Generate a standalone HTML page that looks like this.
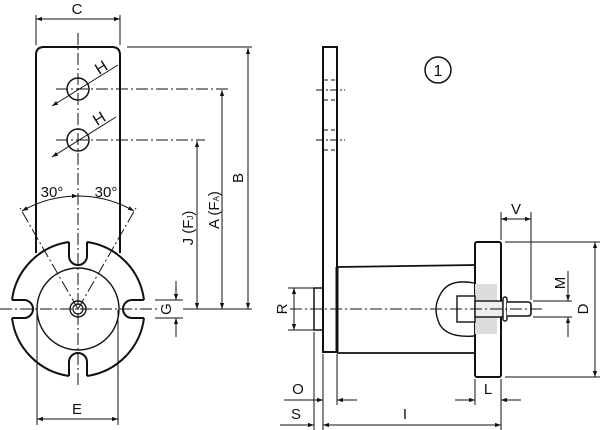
<!DOCTYPE html>
<html><head><meta charset="utf-8"><style>
html,body{margin:0;padding:0;background:#fff;width:600px;height:430px;overflow:hidden}
svg{display:block}
text{font-family:"Liberation Sans",sans-serif;fill:#111}
</style></head><body>
<svg width="600" height="430" viewBox="0 0 600 430" xmlns="http://www.w3.org/2000/svg">
<defs>
<marker id="a" viewBox="0 0 10 10" refX="10" refY="5" markerWidth="8" markerHeight="6" orient="auto-start-reverse" markerUnits="userSpaceOnUse"><path d="M0,1.5 L10,5 L0,8.5z" fill="#111"/></marker>
</defs>
<g stroke="#111" fill="none">
<path d="M36,253 L36,55 Q36,47 44,47 L112,47 Q120,47 120,55 L120,253" stroke-width="2"/>
<circle cx="78" cy="89" r="11" stroke-width="1.5"/>
<circle cx="78" cy="140" r="11" stroke-width="1.5"/>
<path d="M69,242 A67,67 0 0 0 12,300 M12,318 A67,67 0 0 0 69,376 M87,376 A67,67 0 0 0 144,318 M144,300 A67,67 0 0 0 87,242" stroke-width="2"/>
<path d="M69,242 L69,256 A9,9 0 0 0 87,256 L87,242" stroke-width="2"/>
<path d="M69,376 L69,362 A9,9 0 0 1 87,362 L87,376" stroke-width="2"/>
<path d="M12,300 L24,300 A9,9 0 0 1 24,318 L12,318" stroke-width="2"/>
<path d="M144,300 L132,300 A9,9 0 0 0 132,318 L144,318" stroke-width="2"/>
<circle cx="78" cy="309" r="41" stroke-width="1.4"/>
<circle cx="78" cy="309" r="8" stroke-width="1.4"/>
<circle cx="78" cy="309" r="5" stroke-width="1.2"/>
<g stroke-width="1" stroke-dasharray="12,3,2,3">
<line x1="78" y1="33" x2="78" y2="385"/>
<line x1="0" y1="309" x2="160" y2="309"/>
<line x1="56" y1="89" x2="230" y2="89"/>
<line x1="56" y1="140" x2="205" y2="140"/>
<line x1="78" y1="309" x2="20" y2="208"/>
<line x1="78" y1="309" x2="136" y2="208"/>
</g>
<line x1="52" y1="106" x2="118" y2="65" stroke-width="1" marker-start="url(#a)"/>
<line x1="52" y1="157" x2="116" y2="117" stroke-width="1" marker-start="url(#a)"/>
<path d="M22,211 A113,113 0 0 1 78,196" stroke-width="1" marker-start="url(#a)" marker-end="url(#a)"/>
<path d="M78,196 A113,113 0 0 1 134,211" stroke-width="1" marker-end="url(#a)"/>
<line x1="36" y1="15" x2="36" y2="45" stroke-width="1"/>
<line x1="120" y1="15" x2="120" y2="45" stroke-width="1"/>
<line x1="36" y1="19" x2="120" y2="19" stroke-width="1" marker-start="url(#a)" marker-end="url(#a)"/>
<line x1="127" y1="47" x2="252" y2="47" stroke-width="1"/>
<line x1="183" y1="309" x2="252" y2="309" stroke-width="1"/>
<line x1="248" y1="309" x2="248" y2="48" stroke-width="1" marker-end="url(#a)"/>
<line x1="222" y1="309" x2="222" y2="90" stroke-width="1" marker-end="url(#a)"/>
<line x1="197" y1="309" x2="197" y2="141" stroke-width="1" marker-end="url(#a)"/>
<line x1="248" y1="150" x2="248" y2="309" stroke-width="1" marker-end="url(#a)"/>
<line x1="222" y1="150" x2="222" y2="309" stroke-width="1" marker-end="url(#a)"/>
<line x1="197" y1="200" x2="197" y2="309" stroke-width="1" marker-end="url(#a)"/>
<line x1="155" y1="300" x2="183" y2="300" stroke-width="1"/>
<line x1="155" y1="318" x2="183" y2="318" stroke-width="1"/>
<line x1="176" y1="281" x2="176" y2="300" stroke-width="1" marker-end="url(#a)"/>
<line x1="176" y1="337" x2="176" y2="318" stroke-width="1" marker-end="url(#a)"/>
<line x1="37" y1="310" x2="37" y2="425" stroke-width="1"/>
<line x1="118" y1="310" x2="118" y2="425" stroke-width="1"/>
<line x1="37" y1="419" x2="118" y2="419" stroke-width="1" marker-start="url(#a)" marker-end="url(#a)"/>

<rect x="323" y="47" width="14" height="305" stroke-width="2"/>
<g stroke-width="1" stroke-dasharray="4,3">
<line x1="324" y1="80" x2="336" y2="80"/><line x1="324" y1="100" x2="336" y2="100"/>
<line x1="324" y1="130" x2="336" y2="130"/><line x1="324" y1="150" x2="336" y2="150"/>
</g>
<line x1="316" y1="90" x2="345" y2="90" stroke-width="1" stroke-dasharray="8,2,2,2"/>
<line x1="316" y1="140" x2="345" y2="140" stroke-width="1" stroke-dasharray="8,2,2,2"/>
<line x1="337" y1="267" x2="337" y2="352" stroke-width="3"/>
<path d="M337,267 L475,265 M337,353 L475,353" stroke-width="1.8"/>
<rect x="475" y="242" width="26" height="135" rx="2" stroke-width="2"/>
<rect x="314" y="288" width="9" height="42" stroke-width="1.5"/>
<rect x="475" y="284" width="22" height="50" fill="#ddd" stroke="none"/>
<path d="M474,283 Q448,278 440,295 Q432,309 440,325 Q448,338 474,336" stroke-width="1.4"/>
<rect x="457" y="296" width="18" height="26" fill="#fff" stroke-width="1.4"/>
<rect x="475" y="301" width="28" height="16" fill="#eee" stroke-width="1.4"/>
<rect x="503" y="297" width="4" height="24" rx="2" fill="#fff" stroke-width="1.4"/>
<path d="M507,302 L528,302 Q531,302 531,305 L531,313 Q531,316 528,316 L507,316" fill="#fff" stroke-width="1.6"/>
<line x1="290" y1="309" x2="545" y2="309" stroke-width="1" stroke-dasharray="12,3,2,3"/>
<circle cx="438" cy="70" r="13" stroke-width="1.5"/>
<line x1="288" y1="288" x2="314" y2="288" stroke-width="1"/>
<line x1="288" y1="330" x2="314" y2="330" stroke-width="1"/>
<line x1="294" y1="288" x2="294" y2="330" stroke-width="1" marker-start="url(#a)" marker-end="url(#a)"/>
<line x1="314" y1="332" x2="314" y2="430" stroke-width="1"/>
<line x1="323" y1="354" x2="323" y2="430" stroke-width="1"/>
<line x1="337" y1="354" x2="337" y2="405" stroke-width="1"/>
<line x1="475" y1="379" x2="475" y2="405" stroke-width="1"/>
<line x1="501" y1="379" x2="501" y2="430" stroke-width="1"/>
<line x1="284" y1="400" x2="323" y2="400" stroke-width="1" marker-end="url(#a)"/>
<line x1="357" y1="400" x2="337" y2="400" stroke-width="1" marker-end="url(#a)"/>
<line x1="280" y1="425" x2="314" y2="425" stroke-width="1" marker-end="url(#a)"/>
<line x1="323" y1="425" x2="501" y2="425" stroke-width="1" marker-start="url(#a)" marker-end="url(#a)"/>
<line x1="455" y1="400" x2="475" y2="400" stroke-width="1" marker-end="url(#a)"/>
<line x1="521" y1="400" x2="501" y2="400" stroke-width="1" marker-end="url(#a)"/>
<line x1="501" y1="212" x2="501" y2="240" stroke-width="1"/>
<line x1="531" y1="212" x2="531" y2="300" stroke-width="1"/>
<line x1="501" y1="219" x2="531" y2="219" stroke-width="1" marker-start="url(#a)" marker-end="url(#a)"/>
<line x1="505" y1="242" x2="600" y2="242" stroke-width="1"/>
<line x1="505" y1="377" x2="600" y2="377" stroke-width="1"/>
<line x1="595" y1="242" x2="595" y2="377" stroke-width="1" marker-start="url(#a)" marker-end="url(#a)"/>
<line x1="533" y1="301" x2="572" y2="301" stroke-width="1"/>
<line x1="533" y1="317" x2="572" y2="317" stroke-width="1"/>
<line x1="568" y1="271" x2="568" y2="301" stroke-width="1" marker-end="url(#a)"/>
<line x1="568" y1="337" x2="568" y2="317" stroke-width="1" marker-end="url(#a)"/>
</g>
<g font-size="15">
<text x="77" y="14" text-anchor="middle">C</text>
<text x="0" y="0" transform="translate(104,72) rotate(-32)" text-anchor="middle" font-size="16">H</text>
<text x="0" y="0" transform="translate(102,123) rotate(-32)" text-anchor="middle" font-size="16">H</text>
<text x="52" y="197" text-anchor="middle">30°</text>
<text x="106" y="197" text-anchor="middle">30°</text>
<text x="77" y="414" text-anchor="middle">E</text>
<text x="248" y="178" transform="rotate(-90 248 178)" text-anchor="middle" dy="-5">B</text>
<text x="219" y="210" transform="rotate(-90 219 210)" text-anchor="middle">A (F<tspan font-size="8">A</tspan>)</text>
<text x="193" y="228" transform="rotate(-90 193 228)" text-anchor="middle">J (F<tspan font-size="8">J</tspan>)</text>
<text x="177" y="309" transform="rotate(-90 177 309)" text-anchor="middle" dy="-6">G</text>
<text x="288" y="309" transform="rotate(-90 288 309)" text-anchor="middle" dy="-1">R</text>
<text x="298" y="394" text-anchor="middle">O</text>
<text x="296" y="419" text-anchor="middle">S</text>
<text x="405" y="419" text-anchor="middle">I</text>
<text x="488" y="394" text-anchor="middle">L</text>
<text x="516" y="214" text-anchor="middle">V</text>
<text x="589" y="309" transform="rotate(-90 589 309)" text-anchor="middle" dy="-1">D</text>
<text x="566" y="283" transform="rotate(-90 566 283)" text-anchor="middle" dy="-1">M</text>
<text x="438" y="76" text-anchor="middle" font-size="16">1</text>
</g>
</svg>
</body></html>
